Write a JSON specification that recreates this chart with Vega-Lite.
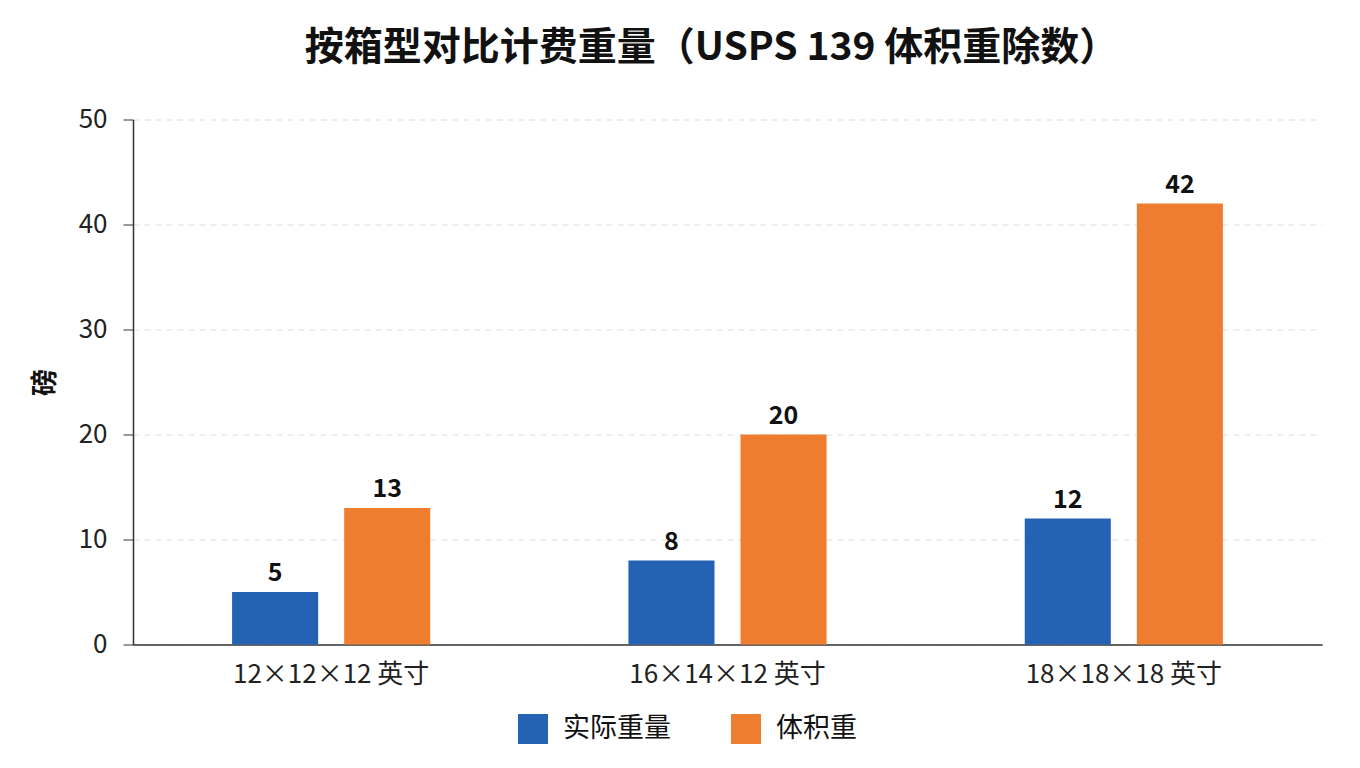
{
  "$schema": "https://vega.github.io/schema/vega-lite/v6.json",
  "width": 1189,
  "height": 525,
  "autosize": {"type": "none"},
  "padding": {"left": 133, "top": 119.5, "right": 38, "bottom": 123.5},
  "background": "white",
  "title": {
    "text": "按箱型对比计费重量（USPS 139 体积重除数）",
    "font": "Noto Sans CJK SC",
    "fontSize": 39,
    "fontWeight": "bold",
    "color": "#111111",
    "anchor": "middle",
    "dx": -16,
    "offset": 39
  },
  "data": {
    "values": [
      {"box": "12×12×12 英寸", "type": "实际重量", "lb": 5},
      {"box": "12×12×12 英寸", "type": "体积重", "lb": 13},
      {"box": "16×14×12 英寸", "type": "实际重量", "lb": 8},
      {"box": "16×14×12 英寸", "type": "体积重", "lb": 20},
      {"box": "18×18×18 英寸", "type": "实际重量", "lb": 12},
      {"box": "18×18×18 英寸", "type": "体积重", "lb": 42}
    ]
  },
  "encoding": {
    "x": {
      "field": "box",
      "type": "nominal",
      "sort": null,
      "title": null,
      "scale": {"paddingInner": 0.5, "paddingOuter": 0.25},
      "axis": {
        "labelAngle": 0,
        "labelFontSize": 26,
        "labelFont": "Noto Sans CJK SC",
        "labelColor": "#222222",
        "labelPadding": 17,
        "labelLimit": 0,
        "ticks": false,
        "domainColor": "#333333",
        "domainWidth": 1.5
      }
    },
    "xOffset": {
      "field": "type",
      "type": "nominal",
      "sort": ["实际重量", "体积重"],
      "scale": {"paddingInner": 0.232}
    },
    "y": {
      "field": "lb",
      "type": "quantitative",
      "title": "磅",
      "scale": {"domain": [0, 50]},
      "axis": {
        "values": [0, 10, 20, 30, 40, 50],
        "labelFontSize": 26,
        "labelFont": "Noto Sans CJK SC",
        "labelColor": "#222222",
        "labelPadding": 16,
        "tickSize": 10,
        "tickColor": "#333333",
        "domainColor": "#333333",
        "domainWidth": 1.5,
        "gridColor": "#dddddd",
        "gridDash": [6, 5],
        "titleFont": "Noto Sans CJK SC",
        "titleFontSize": 27,
        "titleFontWeight": "bold",
        "titleColor": "#111111",
        "titlePadding": 19
      }
    }
  },
  "layer": [
    {
      "mark": {"type": "bar"},
      "encoding": {
        "color": {
          "field": "type",
          "type": "nominal",
          "title": null,
          "scale": {"domain": ["实际重量", "体积重"], "range": ["#2462b4", "#ee7d30"]},
          "legend": {
            "orient": "none",
            "legendX": 385,
            "legendY": 594.5,
            "direction": "horizontal",
            "padding": 0,
            "symbolType": "square",
            "symbolSize": 900,
            "symbolStrokeWidth": 0,
            "labelFont": "Noto Sans CJK SC",
            "labelFontSize": 27,
            "labelColor": "#111111",
            "labelOffset": 15,
            "columnPadding": 60
          }
        }
      }
    },
    {
      "mark": {
        "type": "text",
        "baseline": "alphabetic",
        "dy": -11,
        "font": "Noto Sans CJK SC",
        "fontSize": 25,
        "fontWeight": "bold",
        "color": "#111111"
      },
      "encoding": {"text": {"field": "lb", "type": "quantitative"}}
    }
  ],
  "config": {"view": {"stroke": null}}
}
